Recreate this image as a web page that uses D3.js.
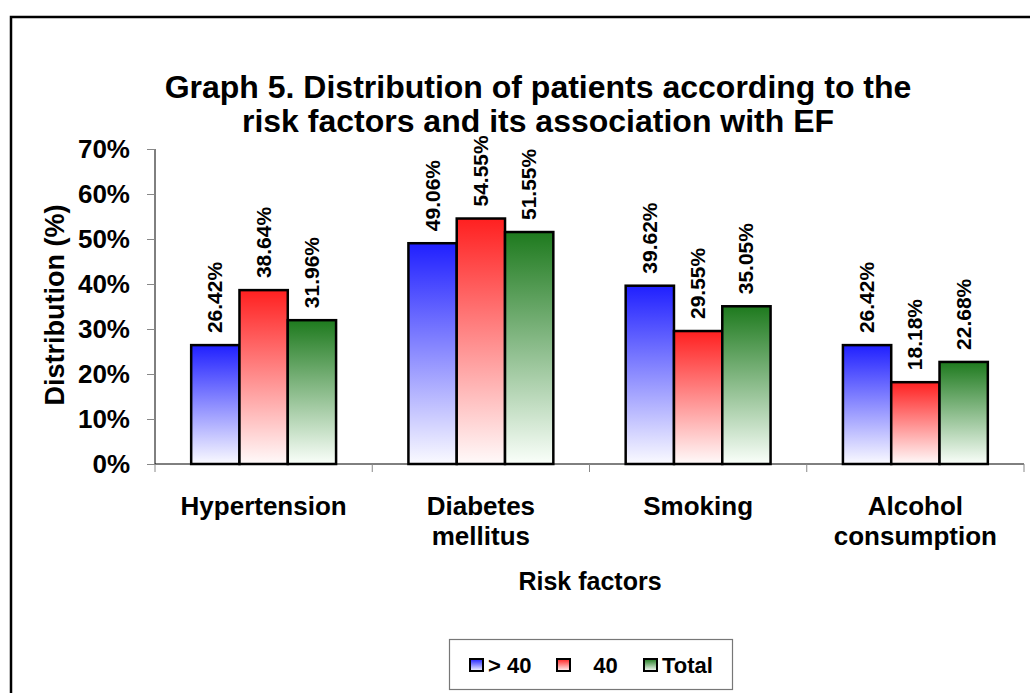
<!DOCTYPE html>
<html><head><meta charset="utf-8">
<script src="https://cdn.jsdelivr.net/npm/d3@7"></script>
<style>body{margin:0;background:#fff}svg{display:block;font-family:"Liberation Sans",Arial,sans-serif;font-weight:bold}</style>
</head><body><svg id="c" width="1030" height="693"></svg>
<script>
const categories = [["Hypertension"],["Diabetes","mellitus"],["Smoking"],["Alcohol","consumption"]];
const seriesNames = ["> 40", "\u00a0\u00a0\u00a040", "Total"];
const gt40 = [26.42, 49.06, 39.62, 26.42];
const le40 = [38.64, 54.55, 29.55, 18.18];
const total = [31.96, 51.55, 35.05, 22.68];
const yTicks = [0,10,20,30,40,50,60,70];
const series = [gt40, le40, total];
const colors = [["#2020ff","#fafaff"],["#ff2020","#fffafa"],["#1e7a1e","#fafffa"]];

const svg = d3.select("#c");
const defs = svg.append("defs");
colors.forEach((c,i)=>{
  const g = defs.append("linearGradient").attr("id","g"+i).attr("x1",0).attr("y1",0).attr("x2",0).attr("y2",1);
  g.append("stop").attr("offset","0%").attr("stop-color",c[0]);
  g.append("stop").attr("offset","100%").attr("stop-color",c[1]);
});

svg.append("rect").attr("x",11).attr("y",17).attr("width",1030).attr("height",700)
  .attr("fill","none").attr("stroke","#000").attr("stroke-width",2.5);

const x0 = d3.scaleBand().domain(d3.range(categories.length)).range([155,1024]).paddingInner(0.333).paddingOuter(0.1665);
const x1 = d3.scaleBand().domain(d3.range(series.length)).range([0,x0.bandwidth()]);
const y = d3.scaleLinear().domain([0,70]).range([464,149]);

// title
const title = svg.append("text").attr("text-anchor","middle").attr("font-size",32);
title.append("tspan").attr("x",538).attr("y",98).text("Graph 5. Distribution of patients according to the");
title.append("tspan").attr("x",538).attr("y",132).text("risk factors and its association with EF");

// y axis
const ya = svg.append("g").attr("transform","translate(155,0)")
  .call(d3.axisLeft(y).tickValues(yTicks).tickFormat(d=>d+"%").tickSize(8).tickPadding(17));
ya.select(".domain").attr("stroke","#000").attr("d","M0,149V464");
ya.selectAll(".tick line").attr("stroke","#888");
ya.selectAll(".tick text").attr("font-size",26).attr("font-family","Liberation Sans, Arial").attr("font-weight","bold").attr("fill","#000");

// bars
series.forEach((s,si)=>{
  svg.append("g").selectAll("rect").data(s).join("rect")
    .attr("x",(d,i)=>x0(i)+x1(si)).attr("y",d=>y(d))
    .attr("width",x1.bandwidth()).attr("height",d=>y(0)-y(d))
    .attr("fill","url(#g"+si+")").attr("stroke","#000").attr("stroke-width",2.5);
  svg.append("g").selectAll("text").data(s).join("text")
    .attr("transform",(d,i)=>`translate(${x0(i)+x1(si)+x1.bandwidth()/2+7},${y(d)-12}) rotate(-90)`)
    .attr("font-size",21).text(d=>d.toFixed(2)+"%");
});

// x axis
const xa = svg.append("g").attr("transform","translate(0,464)");
xa.append("line").attr("x1",155).attr("x2",1024).attr("stroke","#000");
const bounds = d3.range(categories.length+1).map(i=> i<categories.length ? x0(i)-(x0.step()-x0.bandwidth())/2 : 1024);
bounds.forEach(b=>xa.append("line").attr("x1",b).attr("x2",b).attr("y1",0).attr("y2",8).attr("stroke","#888"));

categories.forEach((c,i)=>{
  const t = svg.append("text").attr("text-anchor","middle").attr("font-size",26);
  c.forEach((l,j)=>t.append("tspan").attr("x",x0(i)+x0.bandwidth()/2).attr("y",515+j*30).text(l));
});

svg.append("text").attr("x",590).attr("y",590).attr("text-anchor","middle").attr("font-size",25).text("Risk factors");
svg.append("text").attr("transform","translate(64,305) rotate(-90)").attr("text-anchor","middle").attr("font-size",27).text("Distribution (%)");

// legend
svg.append("rect").attr("x",449.5).attr("y",639.5).attr("width",283).attr("height",50).attr("fill","#fff").attr("stroke","#777").attr("stroke-width",1.2);
const lx = [470, 557, 644];
seriesNames.forEach((n,i)=>{
  svg.append("rect").attr("x",lx[i]).attr("y",659).attr("width",13).attr("height",12).attr("fill","url(#g"+i+")").attr("stroke","#000").attr("stroke-width",2);
  svg.append("text").attr("x",lx[i]+18).attr("y",673).attr("font-size",22).text(n);
});
</script></body></html>
